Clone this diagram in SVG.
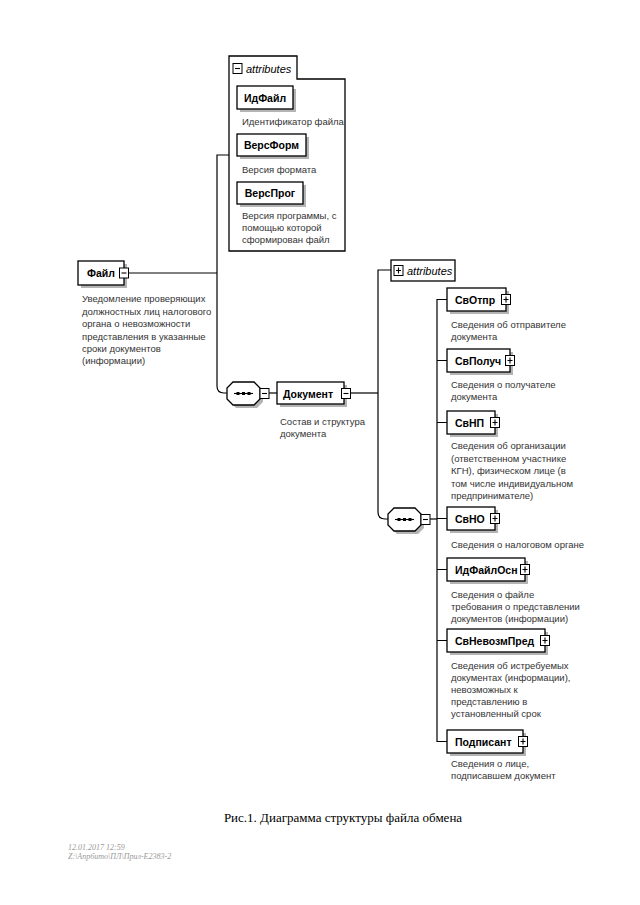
<svg xmlns="http://www.w3.org/2000/svg" width="640" height="905" viewBox="0 0 640 905">
<style>
.bg{fill:#fff}
.box{fill:#fff;stroke:#000;stroke-width:1.3}
.sh{fill:#b4b4b4}
.ln{fill:none;stroke:#000;stroke-width:1.2}
.ic{fill:#fff;stroke:#000;stroke-width:1}
.icl{stroke:#000;stroke-width:1.1}
.nm{font-family:"Liberation Sans",Arial,sans-serif;font-weight:bold;font-size:10.5px;fill:#000}
.ds{font-family:"Liberation Sans",Arial,sans-serif;font-size:9.5px;fill:#333}
.at{font-family:"Liberation Sans",Arial,sans-serif;font-style:italic;font-size:11px;fill:#000}
.cap{font-family:"Liberation Serif","Times New Roman",serif;font-size:13px;fill:#000}
.ft{font-family:"Liberation Serif","Times New Roman",serif;font-style:italic;font-size:8px;fill:#999}
</style>
<rect class="bg" x="0" y="0" width="640" height="905"/>

<g id="connectors">
<path class="ln" d="M128,273 H217"/>
<path class="ln" d="M229,155 H217 V386 Q217,393 224,393 H227"/>
<path class="ln" d="M268,393 H277"/>
<path class="ln" d="M351,393 H378"/>
<path class="ln" d="M391,270 H378 V512 Q378,519 385,519 H388"/>
<path class="ln" d="M429,519 H437"/>
<path class="ln" d="M447,299.5 H437 V741.5 H447"/>
<path class="ln" d="M437,360.5 H447 M437,422.5 H447 M437,518.5 H447 M437,569.5 H447 M437,640.5 H447"/>
</g>

<g id="attributes-top">
<path class="box" d="M229,56 H297 V79 H345 V251 H229 Z"/>
<rect class="ic" x="233" y="63.5" width="9" height="10"/>
<path class="icl" d="M235,68.5 H240"/>
<text class="at" x="246" y="73">attributes</text>
</g>

<g id="IdFile">
<rect class="sh" x="240" y="89" width="56" height="23"/>
<rect class="box" x="237" y="86" width="56" height="23"/>
<text class="nm" x="265" y="102" text-anchor="middle">ИдФайл</text>
<text class="ds" x="242" y="125">Идентификатор файла</text>
</g>

<g id="VersForm">
<rect class="sh" x="240" y="137" width="69" height="22"/>
<rect class="box" x="237" y="134" width="69" height="22"/>
<text class="nm" x="271.5" y="149" text-anchor="middle">ВерсФорм</text>
<text class="ds" x="242" y="173">Версия формата</text>
</g>

<g id="VersProg">
<rect class="sh" x="240" y="185" width="66" height="22"/>
<rect class="box" x="237" y="182" width="66" height="22"/>
<text class="nm" x="270" y="197" text-anchor="middle">ВерсПрог</text>
<text class="ds" x="242" y="219">Версия программы, с</text>
<text class="ds" x="242" y="231">помощью которой</text>
<text class="ds" x="242" y="243">сформирован файл</text>
</g>

<g id="File">
<rect class="sh" x="81" y="264" width="46" height="24"/>
<rect class="box" x="78" y="261" width="46" height="24"/>
<text class="nm" x="87" y="277">Файл</text>
<rect class="ic" x="119.5" y="268" width="9" height="10"/>
<path class="icl" d="M121.5,273 H126.5"/>
<text class="ds" x="82" y="302">Уведомление проверяющих</text>
<text class="ds" x="82" y="315">должностных лиц налогового</text>
<text class="ds" x="82" y="327">органа о невозможности</text>
<text class="ds" x="82" y="340">представления в указанные</text>
<text class="ds" x="82" y="352">сроки документов</text>
<text class="ds" x="82" y="364">(информации)</text>
</g>

<g id="sequence-1">
<path class="sh" d="M236,385 H257 L263,391 V402 L257,408 H236 L230,402 V391 Z"/>
<path class="box" d="M233,382 H254 L260,388 V399 L254,405 H233 L227,399 V388 Z"/>
<path class="icl" d="M234,393.5 H253"/>
<rect x="236.5" y="392" width="3" height="3" fill="#000"/>
<rect x="242" y="392" width="3" height="3" fill="#000"/>
<rect x="247.5" y="392" width="3" height="3" fill="#000"/>
<rect class="ic" x="260" y="388.5" width="9" height="10"/>
<path class="icl" d="M262,393.5 H267"/>
</g>

<g id="Document">
<rect class="sh" x="280" y="385" width="67" height="22"/>
<rect class="box" x="277" y="382" width="67" height="22"/>
<text class="nm" x="283" y="398">Документ</text>
<rect class="ic" x="341.5" y="388.5" width="9" height="10"/>
<path class="icl" d="M343.5,393.5 H348.5"/>
<text class="ds" x="280" y="425">Состав и структура</text>
<text class="ds" x="280" y="437">документа</text>
</g>

<g id="attributes-doc">
<rect class="box" x="391" y="260" width="64" height="21"/>
<rect class="ic" x="394" y="265.5" width="9" height="10"/>
<path class="icl" d="M396,270.5 H401 M398.5,267.5 V273.5"/>
<text class="at" x="407" y="275">attributes</text>
</g>

<g id="sequence-2">
<path class="sh" d="M397,511 H418 L424,517 V528 L418,534 H397 L391,528 V517 Z"/>
<path class="box" d="M394,508 H415 L421,514 V525 L415,531 H394 L388,525 V514 Z"/>
<path class="icl" d="M395,519.5 H414"/>
<rect x="397.5" y="518" width="3" height="3" fill="#000"/>
<rect x="403" y="518" width="3" height="3" fill="#000"/>
<rect x="408.5" y="518" width="3" height="3" fill="#000"/>
<rect class="ic" x="421" y="514.5" width="9" height="10"/>
<path class="icl" d="M423,519.5 H428"/>
</g>

<g id="SvOtpr">
<rect class="sh" x="450" y="291" width="59" height="23"/>
<rect class="box" x="447" y="288" width="59" height="23"/>
<text class="nm" x="455" y="304">СвОтпр</text>
<rect class="ic" x="501.5" y="294.5" width="9" height="10"/>
<path class="icl" d="M503.5,299.5 H508.5 M506,296.5 V302.5"/>
<text class="ds" x="451" y="328">Сведения об отправителе</text>
<text class="ds" x="451" y="340">документа</text>
</g>

<g id="SvPoluch">
<rect class="sh" x="450" y="352" width="63" height="23"/>
<rect class="box" x="447" y="349" width="63" height="23"/>
<text class="nm" x="455" y="365">СвПолуч</text>
<rect class="ic" x="505.5" y="355.5" width="9" height="10"/>
<path class="icl" d="M507.5,360.5 H512.5 M510,357.5 V363.5"/>
<text class="ds" x="451" y="388">Сведения о получателе</text>
<text class="ds" x="451" y="400">документа</text>
</g>

<g id="SvNP">
<rect class="sh" x="450" y="414" width="48" height="23"/>
<rect class="box" x="447" y="411" width="48" height="23"/>
<text class="nm" x="455" y="427">СвНП</text>
<rect class="ic" x="490.5" y="417.5" width="9" height="10"/>
<path class="icl" d="M492.5,422.5 H497.5 M495,419.5 V425.5"/>
<text class="ds" x="451" y="449">Сведения об организации</text>
<text class="ds" x="451" y="462">(ответственном участнике</text>
<text class="ds" x="451" y="474">КГН), физическом лице (в</text>
<text class="ds" x="451" y="487">том числе индивидуальном</text>
<text class="ds" x="451" y="499">предпринимателе)</text>
</g>

<g id="SvNO">
<rect class="sh" x="450" y="510" width="48" height="23"/>
<rect class="box" x="447" y="507" width="48" height="23"/>
<text class="nm" x="455" y="523">СвНО</text>
<rect class="ic" x="490.5" y="513.5" width="9" height="10"/>
<path class="icl" d="M492.5,518.5 H497.5 M495,515.5 V521.5"/>
<text class="ds" x="451" y="548">Сведения о налоговом органе</text>
</g>

<g id="IdFileOsn">
<rect class="sh" x="450" y="561" width="78" height="23"/>
<rect class="box" x="447" y="558" width="78" height="23"/>
<text class="nm" x="455" y="574">ИдФайлОсн</text>
<rect class="ic" x="520.5" y="564.5" width="9" height="10"/>
<path class="icl" d="M522.5,569.5 H527.5 M525,566.5 V572.5"/>
<text class="ds" x="451" y="598">Сведения о файле</text>
<text class="ds" x="451" y="610">требования о представлении</text>
<text class="ds" x="451" y="622">документов (информации)</text>
</g>

<g id="SvNevozmPred">
<rect class="sh" x="450" y="632" width="98" height="23"/>
<rect class="box" x="447" y="629" width="98" height="23"/>
<text class="nm" x="455" y="645">СвНевозмПред</text>
<rect class="ic" x="540.5" y="635.5" width="9" height="10"/>
<path class="icl" d="M542.5,640.5 H547.5 M545,637.5 V643.5"/>
<text class="ds" x="451" y="669">Сведения об истребуемых</text>
<text class="ds" x="451" y="681">документах (информации),</text>
<text class="ds" x="451" y="693">невозможных к</text>
<text class="ds" x="451" y="705">представлению в</text>
<text class="ds" x="451" y="717">установленный срок</text>
</g>

<g id="Podpisant">
<rect class="sh" x="450" y="733" width="76" height="23"/>
<rect class="box" x="447" y="730" width="76" height="23"/>
<text class="nm" x="455" y="746">Подписант</text>
<rect class="ic" x="518.5" y="736.5" width="9" height="10"/>
<path class="icl" d="M520.5,741.5 H525.5 M523,738.5 V744.5"/>
<text class="ds" x="451" y="767">Сведения о лице,</text>
<text class="ds" x="451" y="779">подписавшем документ</text>
</g>

<text class="cap" x="343" y="822" text-anchor="middle">Рис.1. Диаграмма структуры файла обмена</text>
<text class="ft" x="68" y="850">12.01.2017 12:59</text>
<text class="ft" x="68" y="859">Z:\Апрбито\ПЛ\Прил-Е2383-2</text>
</svg>
